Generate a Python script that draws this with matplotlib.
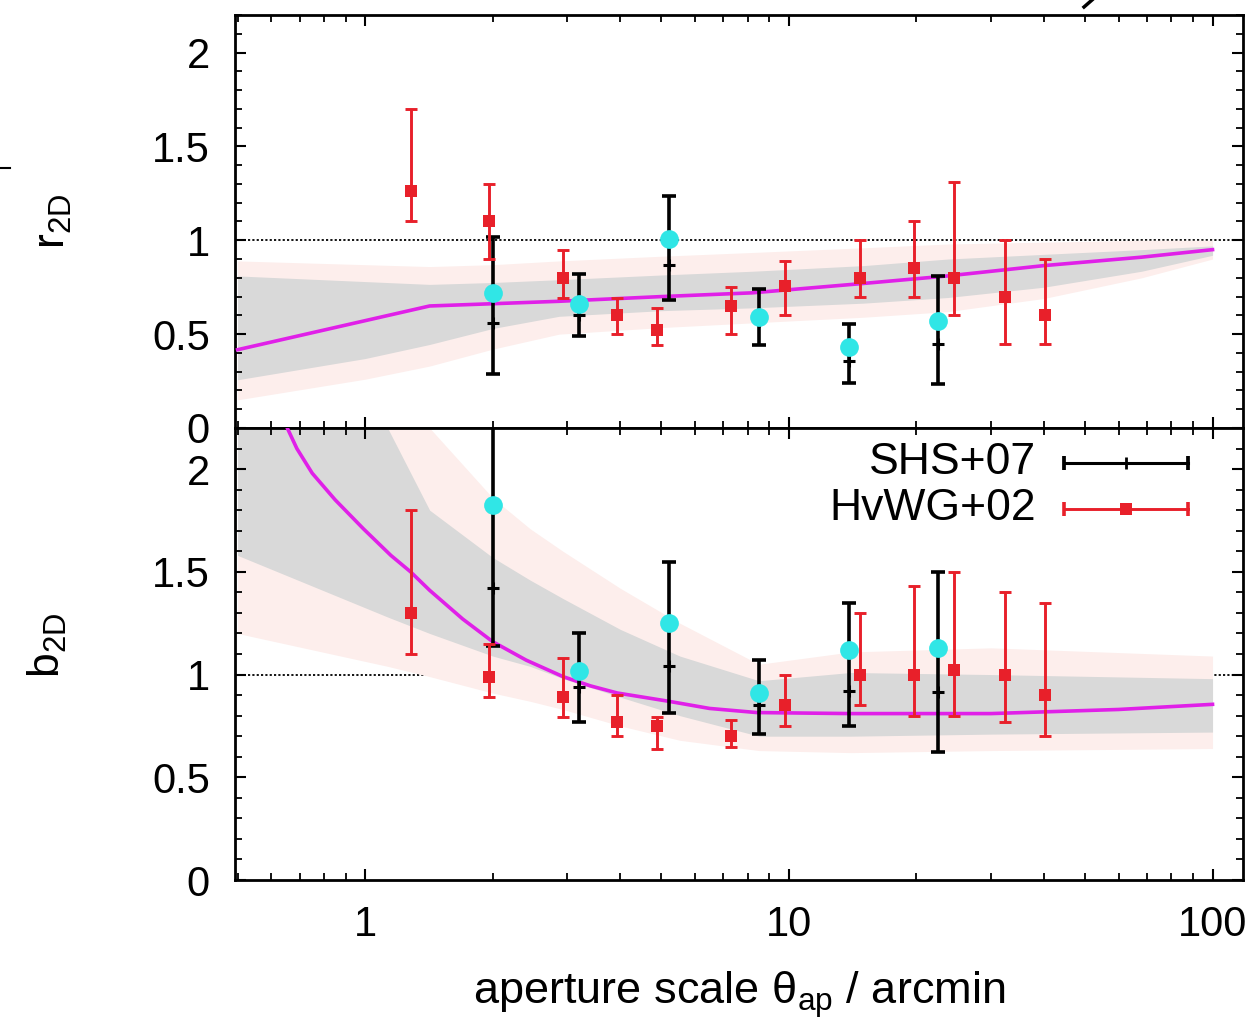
import numpy as np
import matplotlib
matplotlib.use("Agg")
import matplotlib.pyplot as plt
from matplotlib.lines import Line2D
from matplotlib.ticker import MultipleLocator, LogLocator, NullFormatter, FixedLocator, FixedFormatter

plt.rcParams['font.family'] = ['Liberation Sans', 'DejaVu Sans']
plt.rcParams['mathtext.fontset'] = 'custom'
plt.rcParams['mathtext.rm'] = 'Liberation Sans'
plt.rcParams['mathtext.it'] = 'Liberation Sans'

# ---------------- data ----------------
# HvWG+02 (red)
theta_hv = [1.28, 1.96, 2.93, 3.94, 4.89, 7.3, 9.8, 14.7, 19.7, 24.5, 32.3, 40.3]
r_hv = [1.26, 1.10, 0.80, 0.60, 0.52, 0.65, 0.755, 0.80, 0.85, 0.80, 0.70, 0.60]
r_hv_lo = [1.10, 0.90, 0.695, 0.50, 0.44, 0.50, 0.60, 0.70, 0.70, 0.60, 0.45, 0.45]
r_hv_hi = [1.70, 1.30, 0.95, 0.695, 0.64, 0.75, 0.89, 1.00, 1.10, 1.31, 1.00, 0.90]
b_hv = [1.30, 0.99, 0.89, 0.77, 0.75, 0.70, 0.85, 1.00, 1.00, 1.02, 1.00, 0.90]
b_hv_lo = [1.10, 0.89, 0.795, 0.70, 0.64, 0.645, 0.75, 0.85, 0.80, 0.80, 0.77, 0.70]
b_hv_hi = [1.80, 1.15, 1.08, 0.90, 0.795, 0.78, 1.00, 1.30, 1.43, 1.50, 1.40, 1.35]

# SHS+07 (black) and cyan points
theta_shs = [2.0, 3.2, 5.2, 8.5, 13.9, 22.5]
r_shs = [0.56, 0.60, 0.87, 0.57, 0.355, 0.45]
r_shs_lo = [0.29, 0.49, 0.68, 0.44, 0.24, 0.235]
r_shs_hi = [1.02, 0.82, 1.235, 0.74, 0.555, 0.81]
r_cyan = [0.72, 0.66, 1.005, 0.59, 0.43, 0.57]
b_shs = [1.42, 0.94, 1.04, 0.85, 0.92, 0.915]
b_shs_lo = [1.14, 0.77, 0.815, 0.71, 0.75, 0.625]
b_shs_hi = [2.60, 1.20, 1.55, 1.07, 1.35, 1.50]
b_cyan = [1.825, 1.015, 1.25, 0.91, 1.12, 1.13]

# model curves
theta_r_model = [0.5, 1.42, 2.0, 2.87, 5.0, 8.2, 15, 23.7, 40, 68, 100]
r_model = [0.417, 0.65, 0.662, 0.675, 0.70, 0.72, 0.77, 0.81, 0.865, 0.91, 0.95]
theta_b_model = [0.6, 0.655, 0.69, 0.75, 0.85, 0.99, 1.15, 1.28, 1.42, 1.7, 2.0, 2.4, 2.93,
                 3.4, 3.94, 5.2, 6.5, 8.4, 14, 30, 60, 100]
b_model = [2.5, 2.2, 2.1, 1.98, 1.85, 1.71, 1.58, 1.50, 1.41, 1.27, 1.16, 1.07, 0.99,
           0.945, 0.91, 0.87, 0.835, 0.815, 0.81, 0.81, 0.83, 0.855]

# bands (top panel)
theta_r_band = [0.5, 1.0, 1.42, 2.0, 2.87, 5.0, 8.2, 15, 23.7, 40, 68, 100]
r_grey_lo = [0.257, 0.37, 0.445, 0.53, 0.595, 0.625, 0.64, 0.665, 0.695, 0.75, 0.835, 0.92]
r_grey_hi = [0.81, 0.78, 0.765, 0.775, 0.79, 0.815, 0.835, 0.865, 0.90, 0.925, 0.95, 0.97]
r_pink_lo = [0.15, 0.26, 0.33, 0.42, 0.50, 0.535, 0.56, 0.59, 0.62, 0.69, 0.80, 0.90]
r_pink_hi = [0.89, 0.87, 0.86, 0.87, 0.89, 0.915, 0.935, 0.96, 0.98, 0.99, 1.00, 1.00]

# bands (bottom panel)
theta_b_band = [0.5, 1.13, 1.42, 2.0, 2.45, 2.93, 4.0, 5.53, 8.5, 14, 30, 100]
b_grey_lo = [1.58, 1.28, 1.20, 1.09, 1.04, 0.98, 0.89, 0.80, 0.70, 0.70, 0.71, 0.72]
b_grey_hi = [2.6, 2.2, 1.80, 1.57, 1.46, 1.37, 1.22, 1.09, 0.97, 1.01, 1.00, 0.98]
b_pink_lo = [1.20, 1.04, 0.99, 0.91, 0.87, 0.83, 0.75, 0.68, 0.63, 0.62, 0.63, 0.64]
b_pink_hi = [2.8, 2.5, 2.2, 1.86, 1.71, 1.60, 1.42, 1.25, 1.05, 1.11, 1.13, 1.09]

labels = ['SHS+07', 'HvWG+02']

# ---------------- style ----------------
RED = '#e8202a'
CYAN = '#30e6e6'
MAG = '#e020e8'
GREY = '#d9d9d9'
PINK = '#fdeeec'

fig = plt.figure(figsize=(12.57, 10.25), dpi=100)
L, W = 0.18695, 0.8019
ax1 = fig.add_axes([L, 0.58244, W, 0.40293])
ax2 = fig.add_axes([L, 0.14146, W, 0.44098], sharex=ax1)

def draw(ax, th_band, g_lo, g_hi, p_lo, p_hi, th_m, model, yv, ylo, yhi, ys, yslo, yshi, yc):
    ax.axhline(1.0, color='k', lw=1.3, ls=(0, (1.2, 1.2)), zorder=0.5)
    ax.fill_between(th_band, p_lo, p_hi, color=PINK, lw=0, zorder=1)
    ax.fill_between(th_band, g_lo, g_hi, color=GREY, lw=0, zorder=1.1)
    ax.plot(th_m, model, color=MAG, lw=2.6, zorder=3, solid_joinstyle='round')
    ys_a = np.array(ys)
    ax.errorbar(theta_shs, ys, yerr=[ys_a - np.array(yslo), np.array(yshi) - ys_a],
                fmt='none', ecolor='k', elinewidth=2.6, capsize=5, capthick=2.6, zorder=4)
    ax.plot(theta_shs, ys, ls='none', marker='+', color='k', ms=9, mew=2.2, zorder=4.1)
    yv_a = np.array(yv)
    ax.errorbar(theta_hv, yv, yerr=[yv_a - np.array(ylo), np.array(yhi) - yv_a],
                fmt='none', ecolor=RED, elinewidth=2.1, capsize=4.5, capthick=2.1, zorder=5)
    ax.plot(theta_hv, yv, ls='none', marker='s', color=RED, ms=8.5, mew=0, zorder=5.1)
    ax.plot(theta_shs, yc, 'o', color=CYAN, ms=13.5, mew=0, zorder=6)
    ax.set_xscale('log')
    ax.set_xlim(0.493, 118)
    ax.set_ylim(0, 2.2)
    ax.yaxis.set_major_locator(FixedLocator([0, 0.5, 1, 1.5, 2]))
    ax.yaxis.set_major_formatter(FixedFormatter(['0', '0.5', '1', '1.5', '2']))
    ax.yaxis.set_minor_locator(MultipleLocator(0.1))
    ax.xaxis.set_major_locator(FixedLocator([1, 10, 100]))
    ax.xaxis.set_major_formatter(FixedFormatter(['1', '10', '100']))
    ax.xaxis.set_minor_locator(LogLocator(base=10, subs=np.arange(2, 10)))
    ax.xaxis.set_minor_formatter(NullFormatter())
    ax.tick_params(which='both', direction='in', top=True, right=True, labelsize=30, pad=18)
    ax.tick_params(which='major', length=8, width=1.5)
    ax.tick_params(which='minor', length=5, width=1.3)
    for s in ax.spines.values():
        s.set_linewidth(2.0)

draw(ax1, theta_r_band, r_grey_lo, r_grey_hi, r_pink_lo, r_pink_hi, theta_r_model, r_model,
     r_hv, r_hv_lo, r_hv_hi, r_shs, r_shs_lo, r_shs_hi, r_cyan)
draw(ax2, theta_b_band, b_grey_lo, b_grey_hi, b_pink_lo, b_pink_hi, theta_b_model, b_model,
     b_hv, b_hv_lo, b_hv_hi, b_shs, b_shs_lo, b_shs_hi, b_cyan)

ax1.tick_params(axis='x', labelbottom=False)

ax1.set_ylabel(r'r$_{\mathregular{2D}}$', fontsize=32)
ax2.set_ylabel(r'b$_{\mathregular{2D}}$', fontsize=32)
ax1.yaxis.set_label_coords(-0.160, 0.5)
ax2.yaxis.set_label_coords(-0.165, 0.52)
ax2.set_xlabel(r'aperture scale $\mathregular{\theta_{ap}}$ / arcmin', fontsize=32.5, labelpad=17)

# legend (manual, gnuplot style)
tx = 0.795
lx0, lx1 = 0.8224, 0.9454
for yy, lab, col, mk, ms, lw in [(0.9226, labels[0], 'k', '+', 9, 2.2), (0.8208, labels[1], RED, 's', 8.5, 2.1)]:
    ax2.text(tx, yy, lab, transform=ax2.transAxes, ha='right', va='center', fontsize=32)
    ax2.plot([lx0, lx1], [yy, yy], color=col, lw=lw, transform=ax2.transAxes, zorder=7)
    ax2.plot([lx0, lx1], [yy, yy], ls='none', marker='|', ms=10, mew=lw + 0.5, color=col,
             transform=ax2.transAxes, zorder=7)
    ax2.plot([(lx0 + lx1) / 2], [yy], ls='none', marker=mk, ms=ms, mew=(2 if mk == '+' else 0),
             color=col, transform=ax2.transAxes, zorder=7)

# small cropped fragments at the figure edge
fig.add_artist(Line2D([0, 0.008], [1 - 168 / 1025] * 2, color='k', lw=1.5))
fig.add_artist(Line2D([1084 / 1257, 1092 / 1257], [1 - 7 / 1025, 1.0], color='k', lw=2.5))

fig.savefig('out.png', dpi=100)
